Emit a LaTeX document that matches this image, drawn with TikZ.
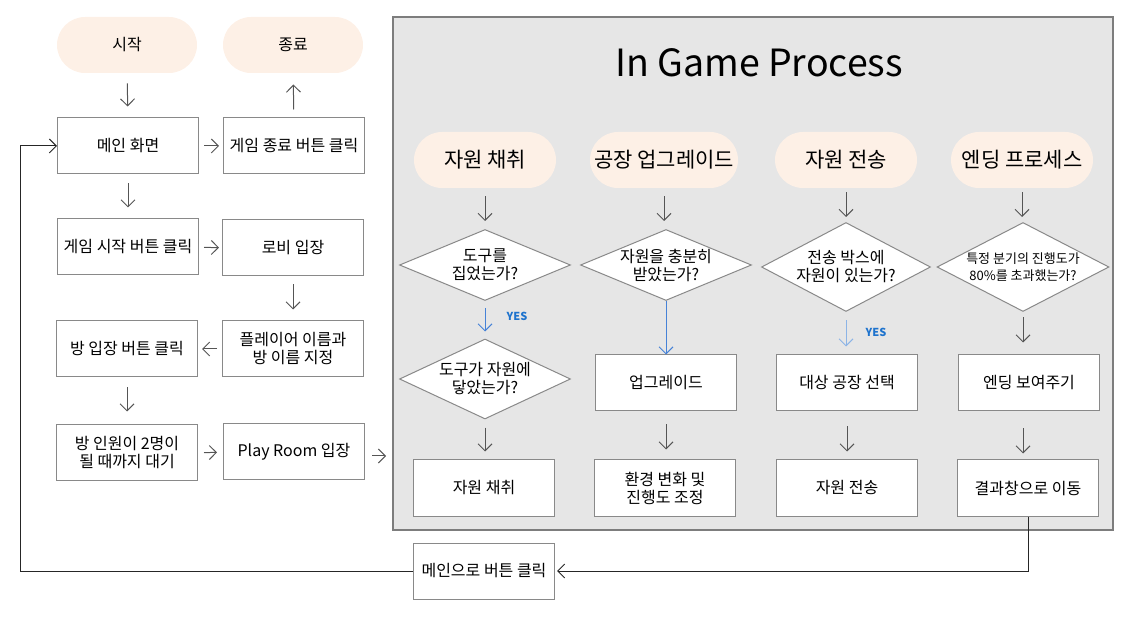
\documentclass[tikz,border=0pt]{standalone}
\usepackage{fontspec}
\setmainfont{Noto Sans CJK KR}
\usetikzlibrary{positioning,shapes.geometric,arrows.meta}
\definecolor{peach}{RGB}{253,240,230}
\definecolor{panel}{RGB}{230,230,230}
\definecolor{paneledge}{RGB}{125,125,125}
\definecolor{edge}{RGB}{137,137,137}
\definecolor{arrowgray}{RGB}{85,85,85}
\definecolor{yesblue}{RGB}{30,115,205}
\definecolor{lineblue}{RGB}{70,130,215}
\definecolor{paleblue}{RGB}{140,180,230}
\tikzset{
	pill/.style={fill=peach, rounded corners=28pt, minimum width=140pt, minimum height=56pt, font=\fontsize{16}{18}\selectfont},
	head/.style={pill, minimum width=142pt, font=\fontsize{21}{24}\selectfont},
	box/.style={draw=edge, fill=white, minimum width=141pt, minimum height=56pt, inner sep=1pt, align=center, font=\fontsize{16}{18}\selectfont},
	ask/.style={draw=edge, fill=white, diamond, aspect=2.4, inner sep=-6pt, minimum width=171pt, minimum height=71pt, align=center, font=\fontsize{16}{18}\selectfont},
	arr/.style={draw=arrowgray, -{Straight Barb[length=7pt,width=14pt]}},
	back/.style={draw=black!85, -{Straight Barb[length=7pt,width=14pt]}},
	yes/.style={text=yesblue, font=\fontsize{11}{13}\selectfont\bfseries}
}
\begin{document}
\begin{tikzpicture}[x=1pt, y=-1pt, line width=1pt]
	\useasboundingbox (0,0) rectangle (1133,617);
	\node [draw=paneledge, line width=2pt, fill=panel, minimum width=720pt, minimum height=513pt] (game) at (753,273.5) {};
	\node (title) at (759,63) {\fontsize{37.5}{42}\selectfont In Game Process};

	\node [pill] (start) at (127,45) {시작};
	\node [pill] (finish) at (293,45) {종료};
	\node [box] (main) at (128,146) {메인 화면};
	\node [box] (quit) at (294,146) {게임 종료 버튼 클릭};
	\node [box] (startbtn) at (128,247) {게임 시작 버튼 클릭};
	\node [box] (lobby) at (293,248) {로비 입장};
	\node [box] (names) at (293,349) {플레이어 이름과\\방 이름 지정};
	\node [box] (roombtn) at (127,349) {방 입장 버튼 클릭};
	\node [box] (wait) at (127,453) {방 인원이 2명이\\될 때까지 대기};
	\node [box] (playroom) at (294,452) {Play Room 입장};
	\node [box] (mainback) at (484,571) {메인으로 버튼 클릭};

	\node [head] (head1) at (485,160) {자원 채취};
	\node [ask] (ask1) at (485,265) {도구를\\집었는가?};
	\node [ask, aspect=2.14, minimum height=80pt] (ask1b) at (485,379) {도구가 자원에\\닿았는가?};
	\node [box] (do1) at (484,488) {자원 채취};
	\node [yes] (yes1) at (517,316) {YES};

	\node [head, minimum width=148pt] (head2) at (664,160) {공장 업그레이드};
	\node [ask] (ask2) at (666,265) {자원을 충분히\\받았는가?};
	\node [box] (do2) at (666,383) {업그레이드};
	\node [box] (do2b) at (665,488) {환경 변화 및\\진행도 조정};

	\node [head] (head3) at (846,160) {자원 전송};
	\node [ask, aspect=1.93, minimum width=169pt, minimum height=89pt] (ask3) at (846,267) {전송 박스에\\자원이 있는가?};
	\node [box] (do3) at (847,383) {대상 공장 선택};
	\node [box] (do3b) at (847,488) {자원 전송};
	\node [yes] (yes3) at (876,332) {YES};

	\node [head] (head4) at (1022,160) {엔딩 프로세스};
	\node [ask, aspect=1.93, minimum width=172pt, minimum height=89pt, font=\fontsize{13}{17}\selectfont] (ask4) at (1023,267) {특정 분기의 진행도가\\80\%를 초과했는가?};
	\node [box] (do4) at (1029,383) {엔딩 보여주기};
	\node [box] (do4b) at (1028,488) {결과창으로 이동};

	\draw [arr, shorten <=10pt, shorten >=11pt] (start) -- (main);
	\draw [arr, shorten <=8pt, shorten >=11pt] (quit) -- (finish);
	\draw [arr, shorten <=5pt, shorten >=4pt] (main) -- (quit);
	\draw [arr, shorten <=9pt, shorten >=11pt] (main) -- (startbtn);
	\draw [arr, shorten <=5pt, shorten >=3pt] (startbtn) -- (lobby);
	\draw [arr, shorten <=8pt, shorten >=11pt] (lobby) -- (names);
	\draw [arr, shorten <=5pt, shorten >=4pt] (names) -- (roombtn);
	\draw [arr, shorten <=10pt, shorten >=13pt] (roombtn) -- (wait);
	\draw [arr, shorten <=6pt, shorten >=6pt] (wait) -- (playroom);
	\draw [arr, shorten <=7pt, shorten >=6pt] (playroom.east) ++(0,4) -- (playroom.east |- 0,456 -| game.west);

	\draw [arr, shorten <=8pt, shorten >=8pt] (head1) -- (ask1);
	\draw [arr, draw=lineblue, shorten <=7pt, shorten >=7pt] (ask1) -- (ask1b);
	\draw [arr, shorten <=8pt, shorten >=8pt] (ask1b) -- (ask1b |- do1.north);

	\draw [arr, shorten <=8pt, shorten >=8pt] (head2.south) -- (head2.south |- ask2.north);
	\draw [arr, draw=lineblue] (ask2) -- (do2);
	\draw [arr, shorten <=13pt, shorten >=10pt] (do2) -- (do2 |- do2b.north);

	\draw [arr, shorten <=4pt, shorten >=5pt] (head3) -- (ask3);
	\draw [arr, draw=paleblue, shorten <=8pt, shorten >=8pt] (ask3) -- (ask3 |- do3.north);
	\draw [arr, shorten <=15pt, shorten >=8pt] (do3) -- (do3b);

	\draw [arr, shorten <=4pt, shorten >=5pt] (head4.south) -- (head4.south |- ask4.north);
	\draw [arr, shorten <=5pt, shorten >=12pt] (ask4) -- (ask4 |- do4.north);
	\draw [arr, shorten <=17pt, shorten >=6pt] (do4.south -| ask4) -- (do4b.north -| ask4);

	\coordinate (corner) at (20,571);
	\draw [back, shorten >=2pt] (do4b.south) |- (mainback.east);
	\draw [back] (mainback.west) -- (corner) |- (main.west);
\end{tikzpicture}
\end{document}
